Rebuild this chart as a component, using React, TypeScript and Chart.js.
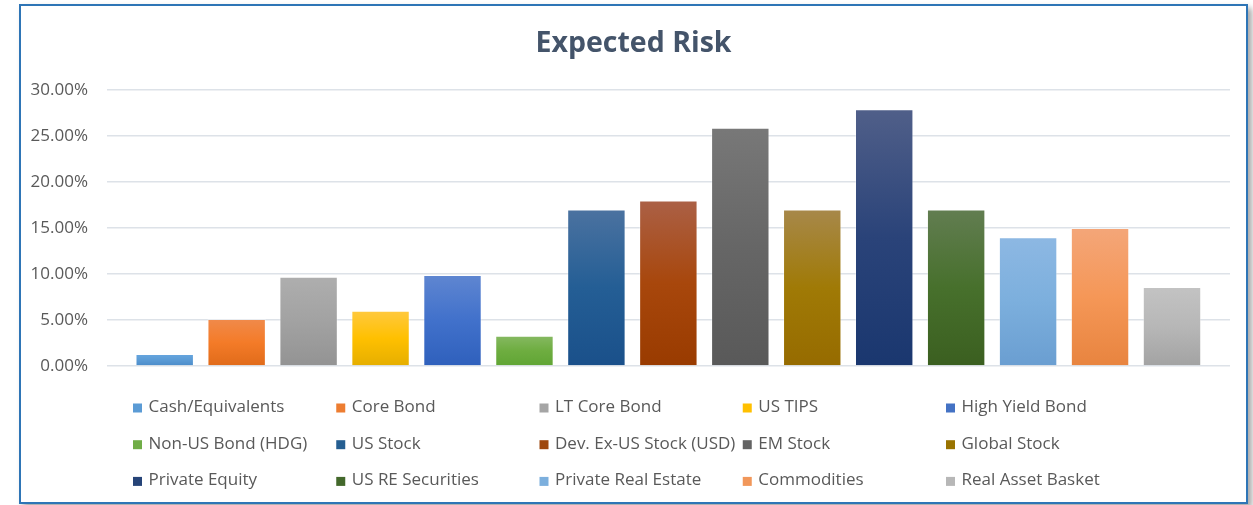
import React, { useEffect, useRef } from "react";
import { Chart, registerables } from "chart.js";

Chart.register(...registerables);

// ---------- data ----------
const categories: string[] = [
  "Cash/Equivalents",
  "Core Bond",
  "LT Core Bond",
  "US TIPS",
  "High Yield Bond",
  "Non-US Bond (HDG)",
  "US Stock",
  "Dev. Ex-US Stock (USD)",
  "EM Stock",
  "Global Stock",
  "Private Equity",
  "US RE Securities",
  "Private Real Estate",
  "Commodities",
  "Real Asset Basket",
];

const expectedRisk: number[] = [1.3, 5.1, 9.7, 6.0, 9.9, 3.3, 17.0, 18.0, 25.9, 17.0, 27.9, 17.0, 14.0, 15.0, 8.6];

const yTickValues: number[] = [0, 5, 10, 15, 20, 25, 30];
const yTickLabels: string[] = ["0.00%", "5.00%", "10.00%", "15.00%", "20.00%", "25.00%", "30.00%"];

// ---------- styles ----------
const baseColors: string[] = [
  "#5B9BD5", "#ED7D31", "#A5A5A5", "#FFC000", "#4472C4",
  "#70AD47", "#255E91", "#9E480E", "#636363", "#997300",
  "#264478", "#43682B", "#7CAFDD", "#F1975A", "#B7B7B7",
];
const gradTop: string[] = [
  "#67A6DF", "#F08A4B", "#AEAEAE", "#FFC93F", "#5F86D1",
  "#86B962", "#4B72A0", "#AB6046", "#787878", "#A7884A",
  "#505F89", "#627D51", "#8DB8E3", "#F4A679", "#C3C3C3",
];
const gradMid: string[] = [
  "#5B9BD5", "#F47B28", "#A2A2A2", "#FFC000", "#4171CB",
  "#6EAD40", "#245E95", "#A8470C", "#666666", "#A07A06",
  "#2A4379", "#47702C", "#7CAFDD", "#F59757", "#B7B7B7",
];
const gradBottom: string[] = [
  "#4B8BC9", "#E06B1A", "#939393", "#E5AE00", "#2F60BC",
  "#60A534", "#1A508A", "#993B00", "#595959", "#966B00",
  "#1A376F", "#3B5F20", "#6A9ED1", "#E8843F", "#A3A3A3",
];

const FONT = '"Open Sans", "Noto Sans", sans-serif';
const TEXT_COLOR = "#595959";

const LEG_X0 = 112;
const LEG_DX = 203.25;
const LEG_Y0 = 401;
const LEG_DY = 36.7;
const LEG_BOX = 9;

const gridLegendPlugin = {
  id: "gridLegend",
  afterDraw(chart: any) {
    const c = chart.ctx as CanvasRenderingContext2D;
    c.save();
    c.font = `17px ${FONT}`;
    c.textBaseline = "middle";
    c.textAlign = "left";
    categories.forEach((name, i) => {
      const col = i % 5;
      const row = Math.floor(i / 5);
      const x = LEG_X0 + col * LEG_DX;
      const y = LEG_Y0 + row * LEG_DY;
      c.fillStyle = baseColors[i];
      c.fillRect(x, y - LEG_BOX / 2 + 1, LEG_BOX, LEG_BOX);
      c.fillStyle = TEXT_COLOR;
      c.fillText(name, x + 15.5, y);
    });
    c.restore();
  },
};

export default function App() {
  const canvasRef = useRef<HTMLCanvasElement | null>(null);

  useEffect(() => {
    if (!canvasRef.current) return;
    const datasets = categories.map((name, i) => ({
      label: name,
      data: [{ x: i, y: expectedRisk[i] }],
      grouped: false,
      barPercentage: 0.812,
      categoryPercentage: 1,
      borderWidth: 1,
      borderColor: "rgba(255,255,255,0.35)",
      backgroundColor: (ctx: any) => {
        const chart = ctx.chart;
        const { chartArea, scales } = chart;
        if (!chartArea || ctx.type !== "data" || !scales.y) return baseColors[i];
        const top = scales.y.getPixelForValue(expectedRisk[i]);
        const bottom = scales.y.getPixelForValue(0);
        if (!isFinite(top) || !isFinite(bottom) || bottom - top < 1) return baseColors[i];
        const g = chart.ctx.createLinearGradient(0, top, 0, bottom);
        g.addColorStop(0, gradTop[i]);
        g.addColorStop(0.5, gradMid[i]);
        g.addColorStop(1, gradBottom[i]);
        return g;
      },
    }));

    const chart = new Chart(canvasRef.current, {
      type: "bar",
      data: { datasets } as any,
      plugins: [gridLegendPlugin],
      options: {
        animation: false,
        responsive: false,
        devicePixelRatio: 1,
        layout: { padding: { left: 0, right: 0, top: 0, bottom: 136 } },
        plugins: {
          legend: { display: false },
          tooltip: { enabled: false },
          title: {
            display: true,
            text: "Expected Risk",
            color: "#44546A",
            font: { family: FONT, size: 28.5, weight: "bold" },
            padding: { top: 20.4, bottom: 29.4 },
          },
        },
        scales: {
          x: {
            type: "linear",
            display: false,
            offset: false,
            min: -0.802,
            max: 14.806,
            afterBuildTicks: (s: any) => {
              s.ticks = categories.map((_, i) => ({ value: i }));
            },
            grid: { display: false },
          },
          y: {
            min: 0,
            max: 30,
            afterBuildTicks: (s: any) => {
              s.ticks = yTickValues.map((v) => ({ value: v }));
            },
            afterFit: (s: any) => {
              s.width = 86;
            },
            border: { display: false },
            grid: { color: "#DDE2E8", lineWidth: 1.5, drawTicks: false },
            ticks: {
              padding: 19,
              color: TEXT_COLOR,
              font: { family: FONT, size: 17 },
              callback: (v: any) => {
                const idx = yTickValues.indexOf(Number(v));
                return idx >= 0 ? yTickLabels[idx] : "";
              },
            },
          },
          yRight: {
            type: "linear",
            position: "right",
            display: true,
            min: 0,
            max: 30,
            afterFit: (s: any) => {
              s.width = 16;
            },
            border: { display: false },
            grid: { display: false, drawTicks: false },
            ticks: { display: false },
          },
        },
      } as any,
    });
    return () => chart.destroy();
  }, []);

  return (
    <div style={{ position: "fixed", left: 0, top: 0, width: 1253, height: 505, background: "#fff", overflow: "hidden" }}>
      <div
        style={{
          position: "absolute",
          left: 19,
          top: 4,
          width: 1225,
          height: 496,
          border: "2px solid #2E75B6",
          background: "#fff",
          boxShadow: "4px 4px 6px rgba(0,0,0,0.35)",
        }}
      >
        <canvas ref={canvasRef} width={1225} height={496} style={{ display: "block" }} />
      </div>
    </div>
  );
}
